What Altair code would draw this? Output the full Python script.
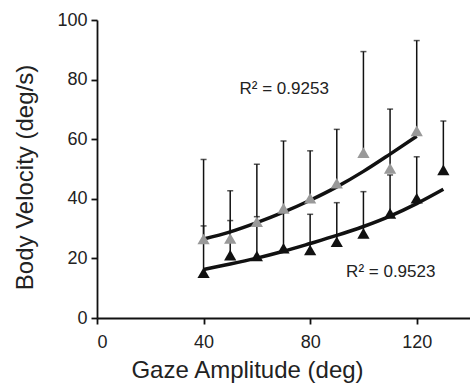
import altair as alt
import pandas as pd

# Gaze amplitude bins
x_gray = [40, 50, 60, 70, 80, 90, 100, 110, 120]
gray_mean = [26.5, 26.7, 32.3, 36.8, 40.2, 45.2, 55.5, 50.2, 62.8]
gray_upper = [53.2, 42.7, 51.6, 59.4, 56.1, 63.3, 89.4, 70.1, 93.1]

x_black = [40, 50, 60, 70, 80, 90, 100, 110, 120, 130]
black_mean = [15.2, 21.1, 20.8, 23.4, 22.8, 25.6, 28.4, 35.1, 40.2, 49.7]
black_upper = [30.9, 32.7, 34.0, 36.0, 34.8, 38.7, 42.4, 48.0, 54.1, 66.1]

# Fit curves
fit_gray_x = [40, 50, 60, 70, 80, 90, 100, 110, 120]
fit_gray_y = [26.5, 28.9, 32.0, 35.5, 39.5, 44.0, 49.2, 55.0, 61.0]
fit_black_x = [40, 50, 60, 70, 80, 90, 100, 110, 120, 130]
fit_black_y = [16.3, 18.1, 20.1, 22.4, 25.0, 27.7, 30.7, 34.2, 38.4, 43.2]

r2_labels = ["R\u00b2 = 0.9253", "R\u00b2 = 0.9523"]
r2_x = [53.5, 93.5]
r2_y = [76.7, 15.4]

gray = pd.DataFrame({"x": x_gray, "mean": gray_mean, "upper": gray_upper, "grp": "gray"})
black = pd.DataFrame({"x": x_black, "mean": black_mean, "upper": black_upper, "grp": "black"})
pts = pd.concat([black, gray], ignore_index=True)
fits = pd.concat([
    pd.DataFrame({"x": fit_gray_x, "y": fit_gray_y, "grp": "gray"}),
    pd.DataFrame({"x": fit_black_x, "y": fit_black_y, "grp": "black"}),
], ignore_index=True)
labels = pd.DataFrame({"t": r2_labels, "x": r2_x, "y": r2_y})

xs = alt.Scale(domain=[0, 140], nice=False, zero=False)
ys = alt.Scale(domain=[0, 100], nice=False)

X = alt.X("x:Q", scale=xs, axis=alt.Axis(values=[0, 40, 80, 120], title="Gaze Amplitude (deg)",
                                          titleX=150, titleY=40, labelPadding=9))
Y = alt.Y("mean:Q", scale=ys, axis=alt.Axis(values=[0, 20, 40, 60, 80, 100], title="Body Velocity (deg/s)",
                                             titleX=-60, titleY=157, labelPadding=4))

color = alt.Color("grp:N", scale=alt.Scale(domain=["gray", "black"], range=["#999999", "#111111"]), legend=None)

base = alt.Chart(pts)
bars = base.mark_rule(color="#111111", strokeWidth=1.5).encode(x=X, y=Y, y2="upper:Q")
caps = base.mark_tick(color="#111111", thickness=1.5, size=6, orient="horizontal").encode(
    x="x:Q", y="upper:Q")
lines = alt.Chart(fits).mark_line(color="#111111", strokeWidth=3.5, interpolate="monotone").encode(
    x="x:Q", y="y:Q", detail="grp:N")
points = base.mark_point(shape="triangle-up", filled=True, size=150, opacity=1).encode(
    x="x:Q", y="mean:Q", color=color)
text = alt.Chart(labels).mark_text(align="left", baseline="middle", fontSize=17,
                                   font="Liberation Sans", color="#222222").encode(
    x="x:Q", y="y:Q", text="t:N")

chart = alt.layer(bars, caps, lines, points, text).properties(
    width=373, height=298,
    autosize=alt.AutoSizeParams(type="none"),
    padding={"left": 97, "top": 20, "right": 0, "bottom": 70},
).configure_view(stroke=None).configure_axis(
    domainColor="#111111", domainWidth=1.8, tickColor="#111111", tickWidth=1.8, tickSize=6,
    grid=False, labelFont="Liberation Sans", labelFontSize=18, labelColor="#222222",
    titleFont="Liberation Sans", titleFontSize=24, titleFontWeight="normal", titleColor="#222222",
).configure_axisY(titleAngle=-90)

chart.save("out.html", embed_options={"renderer": "svg", "actions": False})
